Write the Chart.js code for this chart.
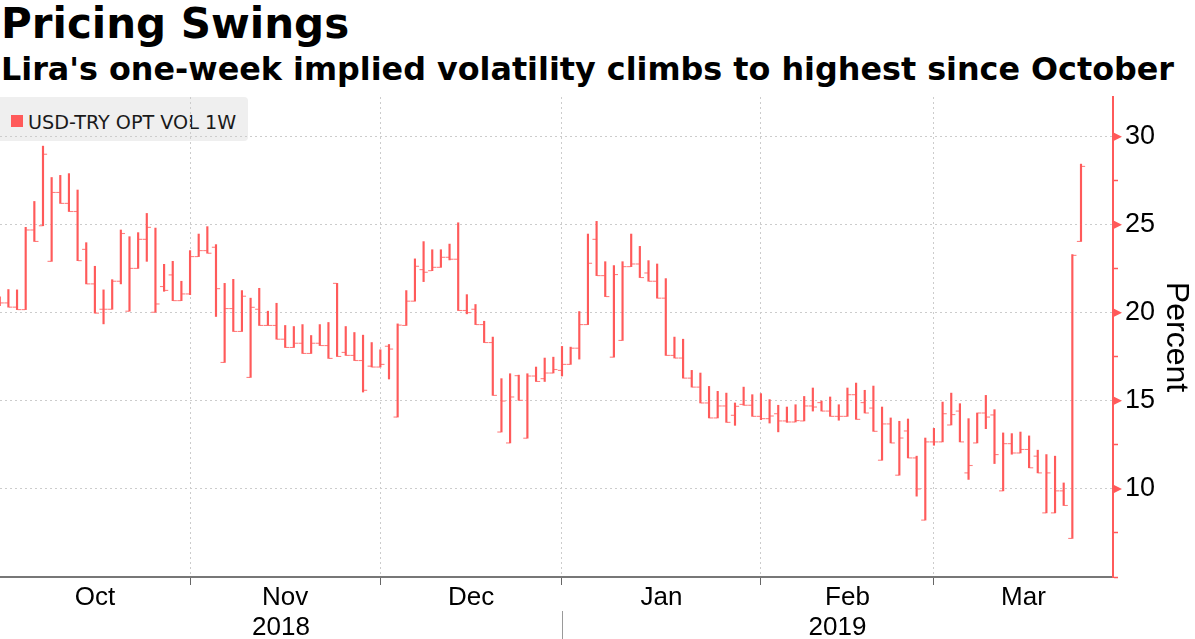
<!DOCTYPE html>
<html>
<head>
<meta charset="utf-8">
<script src="https://cdn.jsdelivr.net/npm/chart.js@4.4.1/dist/chart.umd.min.js"></script>
<style>
html, body { margin:0; padding:0; background:#fff; }
#marco { position:relative; width:1195px; height:639px; overflow:hidden; }
#titulo { position:absolute; left:1px; top:3px; font-family:"DejaVu Sans"; font-weight:bold; font-size:42px; line-height:1; white-space:nowrap; color:#000; }
#subtitulo { position:absolute; left:1px; top:53px; font-family:"DejaVu Sans"; font-weight:bold; font-size:31.8px; line-height:1; white-space:nowrap; color:#000; }
#leyenda { position:absolute; left:0; top:97px; width:248px; height:44px; background:#efefef; border-radius:0 4px 4px 0; }
#leyenda .cuadro { position:absolute; left:11px; top:18px; width:12px; height:12px; background:#ff5a5a; }
#leyenda .texto { position:absolute; left:28px; top:16px; font-family:"DejaVu Sans"; font-size:19.2px; line-height:1; white-space:nowrap; color:#1a1a1a; }
#grafica { position:absolute; left:0; top:0; }
</style>
</head>
<body>
<div id="marco">
  <div id="titulo">Pricing Swings</div>
  <div id="subtitulo">Lira's one-week implied volatility climbs to highest since October</div>
  <div id="leyenda"><span class="cuadro"></span><span class="texto">USD-TRY OPT VOL 1W</span></div>
  <canvas id="grafica" width="1195" height="639"></canvas>
</div>
<script>
// dias habiles del eje, la primera barra es el 2 de octubre
var desde = '2018-10-01';
var hasta = '2019-03-29';
var primeraBarra = 1;
var meses = ['Oct', 'Nov', 'Dec', 'Jan', 'Feb', 'Mar'];
var anios = ['2018', '2019'];
var ticksY = [5, 7.5, 10, 12.5, 15, 17.5, 20, 22.5, 25, 27.5, 30];

var aperturas = [20.6, 20.56, 20.32, 20.18, 24.7, 24.94, 22.92, 26.83, 26.21, 25.75,
  23.6, 21.64, 20.2, 20.2, 21.79, 20.09, 22.52, 24.17, 20.03, 21.49,
  22.15, 20.69, 21.07, 23.19, 23.53, 23.72, 17.18, 20.24, 18.94, 16.33,
  20.2, 19.28, 19.28, 18.5, 18.03, 18.27, 17.69, 18.27, 18.14, 21.67,
  17.75, 17.58, 17.29, 16.97, 16.92, 18.1, 14.08, 19.28, 20.66, 22.45,
  22.39, 22.58, 23.15, 23.04, 20.13, 20.2, 19.33, 18.31, 13.23, 12.61,
  16.43, 12.88, 16.41, 16.26, 16.58, 16.73, 17.07, 17.99, 19.33, 24.17,
  22.11, 17.48, 18.43, 22.62, 22.77, 22.26, 21.79, 20.83, 17.58, 17.43,
  16.29, 15.78, 14.88, 14.03, 14.71, 14.18, 14.8, 14.75, 14.12, 13.99,
  14.27, 13.86, 13.8, 13.86, 14.71, 14.9, 14.42, 14.12, 14.12, 15.35,
  14.9, 14.59, 11.63, 13.69, 10.78, 13.29, 11.76, 8.23, 12.67, 12.67,
  13.63, 14.42, 10.91, 12.61, 14.31, 14.2, 9.89, 12.57, 12.04, 12.24,
  11.86, 8.64, 8.64, 9.89, 7.19, 24.05];
var maximos = [20.9, 21.32, 21.3, 24.85, 26.32, 29.46, 27.68, 27.8, 27.9, 26.97,
  23.98, 22.64, 21.3, 21.88, 24.7, 24.32, 24.55, 25.64, 24.81, 22.75,
  22.92, 21.79, 23.53, 24.47, 24.89, 23.87, 21.67, 21.9, 21.26, 20.83,
  21.39, 20.09, 20.54, 19.28, 19.22, 19.33, 18.71, 19.33, 19.45, 21.67,
  19.22, 18.88, 18.73, 18.31, 17.9, 18.2, 19.37, 21.26, 23.06, 24.04,
  23.58, 23.58, 23.9, 25.11, 21.03, 20.47, 19.52, 18.62, 16.26, 16.54,
  16.46, 16.54, 16.92, 17.43, 17.48, 18.09, 18.05, 20.07, 24.47, 25.19,
  22.9, 22.68, 22.9, 24.47, 23.77, 22.96, 22.77, 21.94, 18.62, 18.5,
  16.73, 16.58, 15.82, 15.54, 15.44, 14.88, 15.78, 15.35, 15.41, 15.07,
  14.75, 14.65, 14.78, 15.25, 15.73, 14.99, 15.22, 14.78, 15.73, 16.01,
  15.6, 15.84, 14.65, 14.03, 13.84, 13.97, 11.86, 12.89, 13.44, 14.93,
  15.44, 14.84, 13.99, 14.31, 15.31, 14.5, 13.18, 13.14, 13.23, 13.01,
  12.2, 11.95, 11.86, 10.34, 23.3, 28.44];
var minimos = [20.4, 20.32, 20.18, 20.18, 24.05, 24.94, 22.92, 26.21, 25.75, 22.96,
  21.64, 19.98, 19.37, 20.2, 21.64, 20.09, 22.52, 22.92, 20.03, 21.22,
  20.69, 20.69, 21.03, 23.19, 23.38, 19.79, 17.18, 18.94, 18.94, 16.33,
  19.28, 19.28, 18.5, 18.03, 18.03, 17.69, 17.69, 18.14, 17.41, 17.52,
  17.58, 17.29, 15.5, 16.92, 16.92, 16.24, 14.08, 19.28, 20.66, 21.77,
  22.39, 22.58, 23.0, 20.13, 19.94, 19.33, 18.31, 15.31, 13.23, 12.61,
  15.03, 12.88, 16.1, 16.1, 16.58, 16.41, 17.07, 17.37, 19.33, 22.11,
  20.92, 17.48, 18.43, 22.62, 22.0, 21.79, 20.83, 17.58, 17.43, 16.29,
  15.78, 14.88, 14.03, 14.03, 13.78, 13.61, 14.75, 14.12, 13.93, 13.74,
  13.24, 13.78, 13.8, 13.86, 14.42, 14.42, 14.12, 13.9, 14.12, 13.95,
  14.31, 13.27, 11.63, 12.61, 10.78, 11.76, 9.59, 8.23, 12.48, 12.67,
  13.63, 12.67, 10.54, 12.61, 13.42, 11.44, 9.89, 11.97, 12.04, 11.2,
  10.91, 8.64, 8.64, 9.06, 7.19, 24.05];
var cierres = [20.56, 20.32, 20.18, 24.7, 24.05, 29.0, 26.83, 26.21, 25.75, 22.96,
  21.64, 19.98, 20.2, 21.79, 24.5, 22.52, 24.17, 24.85, 20.5, 21.27,
  20.69, 21.07, 23.19, 23.53, 23.38, 21.37, 20.24, 18.94, 20.94, 20.31,
  19.28, 19.28, 18.5, 18.03, 18.27, 17.69, 18.27, 18.14, 17.41, 17.52,
  17.58, 17.29, 15.6, 16.92, 17.07, 17.94, 19.3, 20.66, 22.64, 22.3,
  22.58, 23.15, 23.04, 20.13, 20.01, 19.33, 18.31, 15.31, 14.99, 15.22,
  15.03, 16.41, 16.1, 16.58, 16.78, 17.07, 17.99, 19.33, 22.81, 22.11,
  20.92, 22.17, 22.62, 22.77, 22.0, 21.79, 20.83, 17.58, 17.43, 16.29,
  15.78, 14.88, 14.03, 14.71, 13.78, 14.69, 14.75, 14.12, 13.99, 14.14,
  13.86, 13.8, 13.88, 14.71, 14.65, 14.42, 14.12, 14.12, 15.35, 13.95,
  14.31, 13.27, 13.69, 12.61, 12.89, 11.76, 10.0, 12.67, 12.67, 14.27,
  14.22, 12.67, 11.33, 14.31, 14.08, 11.95, 12.57, 12.04, 12.24, 11.2,
  10.91, 10.91, 9.89, 9.06, 23.26, 28.31];

var rojo = '#ff5a5a';
var rojoClaro = '#ff8282';
var xMin = 1.03;
var xMax = 129.7;

function diasHabiles(ini, fin) {
    let dias = [];
    let d = new Date(ini + 'T00:00:00Z');
    let f = new Date(fin + 'T00:00:00Z');
    while (d <= f) {
        let wd = d.getUTCDay();
        if (wd !== 0 && wd !== 6) dias.push(d.toISOString().slice(0, 10));
        d.setUTCDate(d.getUTCDate() + 1);
    }
    return dias;
}

let dias = diasHabiles(desde, hasta);
let iniciosMes = [];
dias.forEach((dia, i) => {
    if (i === 0 || dia.slice(0, 7) !== dias[i - 1].slice(0, 7)) iniciosMes.push(i);
});
let centrosMes = [];
iniciosMes.forEach((v, k) => {
    let a = Math.max(v, xMin);
    let b = k + 1 < iniciosMes.length ? iniciosMes[k + 1] : xMax;
    centrosMes.push((a + b) / 2);
});
let inicioAnio = iniciosMes[3];
let centrosAnio = [(xMin + inicioAnio) / 2, (inicioAnio + xMax) / 2];

let rangos = [];
let abre = [];
let cierra = [];
maximos.forEach((h, k) => {
    let i = primeraBarra + k;
    rangos.push({x: i, y: [minimos[k], h]});
    abre.push({x: i - 0.27, y: aperturas[k]});
    cierra.push({x: i + 0.27, y: cierres[k]});
});

const esMayor = v => v % 5 === 0 && v > 5;

const extras = {
    id: 'extras',
    afterDraw(chart) {
        let c = chart.ctx;
        let y = chart.scales.y;
        let x = chart.scales.x;
        c.save();
        c.fillStyle = rojo;
        y.ticks.forEach(t => {
            if (!esMayor(t.value)) return;
            let py = y.getPixelForValue(t.value);
            c.beginPath();
            c.moveTo(y.left, py - 4.5);
            c.lineTo(y.left + 9, py);
            c.lineTo(y.left, py + 4.5);
            c.closePath();
            c.fill();
        });
        let px = Math.round(x.getPixelForValue(inicioAnio)) + 0.5;
        c.strokeStyle = '#9a9a9a';
        c.lineWidth = 1;
        c.beginPath();
        c.moveTo(px, 611);
        c.lineTo(px, 639);
        c.stroke();
        c.restore();
    }
};

let fuenteEje = {family: 'Liberation Sans', size: 26, lineHeight: 1};
const sinRelleno = s => { s.paddingLeft = 0; s.paddingRight = 0; };

let grafica = new Chart(document.getElementById('grafica').getContext('2d'), {
    type: 'bar',
    data: {
        datasets: [{
            type: 'bar',
            data: rangos,
            backgroundColor: rojo,
            barThickness: 1.5,
            xAxisID: 'x',
            yAxisID: 'y'
        }, {
            type: 'scatter',
            data: abre,
            pointStyle: 'line',
            pointRadius: 1.8,
            pointHoverRadius: 1.8,
            pointBorderWidth: 1.1,
            pointBorderColor: rojoClaro,
            borderColor: rojoClaro,
            xAxisID: 'x',
            yAxisID: 'y'
        }, {
            type: 'scatter',
            data: cierra,
            pointStyle: 'line',
            pointRadius: 1.8,
            pointHoverRadius: 1.8,
            pointBorderWidth: 1.1,
            pointBorderColor: rojoClaro,
            borderColor: rojoClaro,
            xAxisID: 'x',
            yAxisID: 'y'
        }]
    },
    options: {
        responsive: false,
        animation: false,
        events: [],
        layout: {autoPadding: false, padding: {top: 97, left: 0, right: 0, bottom: 0}},
        plugins: {legend: {display: false}, tooltip: {enabled: false}},
        scales: {
            x: {
                type: 'linear', position: 'bottom', weight: 0,
                min: xMin, max: xMax, offset: false,
                grid: {offset: false, color: '#cccccc', lineWidth: 1, tickColor: '#666', tickLength: 8, tickWidth: 1},
                border: {display: true, color: '#777777', width: 2, dash: [2, 3]},
                ticks: {display: false},
                afterBuildTicks: s => { s.ticks = iniciosMes.filter(v => v > xMin).map(v => ({value: v})); },
                afterFit: s => { s.height = 8; sinRelleno(s); }
            },
            xm: {
                type: 'linear', position: 'bottom', weight: 1,
                min: xMin, max: xMax, offset: false,
                grid: {display: false, offset: false, drawTicks: false},
                border: {display: false},
                ticks: {
                    autoSkip: false, maxRotation: 0, padding: 0, color: '#000', font: fuenteEje,
                    callback: (v, i) => meses[i]
                },
                afterBuildTicks: s => { s.ticks = centrosMes.map(v => ({value: v})); },
                afterFit: s => { s.height = 30; sinRelleno(s); }
            },
            xy: {
                type: 'linear', position: 'bottom', weight: 2,
                min: xMin, max: xMax, offset: false,
                grid: {display: false, offset: false, drawTicks: false},
                border: {display: false},
                ticks: {
                    autoSkip: false, maxRotation: 0, padding: 0, color: '#000', font: fuenteEje,
                    callback: (v, i) => anios[i]
                },
                afterBuildTicks: s => { s.ticks = centrosAnio.map(v => ({value: v})); },
                afterFit: s => { s.height = 24; sinRelleno(s); }
            },
            y: {
                type: 'linear', position: 'right',
                min: 5, max: 32.25,
                grid: {
                    color: c => esMayor(c.tick.value) ? '#cccccc' : 'rgba(0,0,0,0)',
                    tickColor: c => esMayor(c.tick.value) ? 'rgba(0,0,0,0)' : rojo,
                    tickLength: 5, tickWidth: 1.5, lineWidth: 1
                },
                border: {display: true, color: rojo, width: 2, dash: [2, 3]},
                ticks: {
                    color: '#000', font: {family: 'Liberation Sans', size: 27, lineHeight: 1}, padding: 7,
                    callback: v => esMayor(v) ? String(v) : ''
                },
                title: {
                    display: true, text: 'Percent', color: '#000',
                    font: {family: 'Liberation Sans', size: 32, lineHeight: 1.2},
                    padding: {top: 0, bottom: 0}
                },
                afterBuildTicks: s => { s.ticks = ticksY.map(v => ({value: v})); },
                afterFit: s => { s.width = 82; }
            }
        }
    },
    plugins: [extras]
});
</script>
</body>
</html>
